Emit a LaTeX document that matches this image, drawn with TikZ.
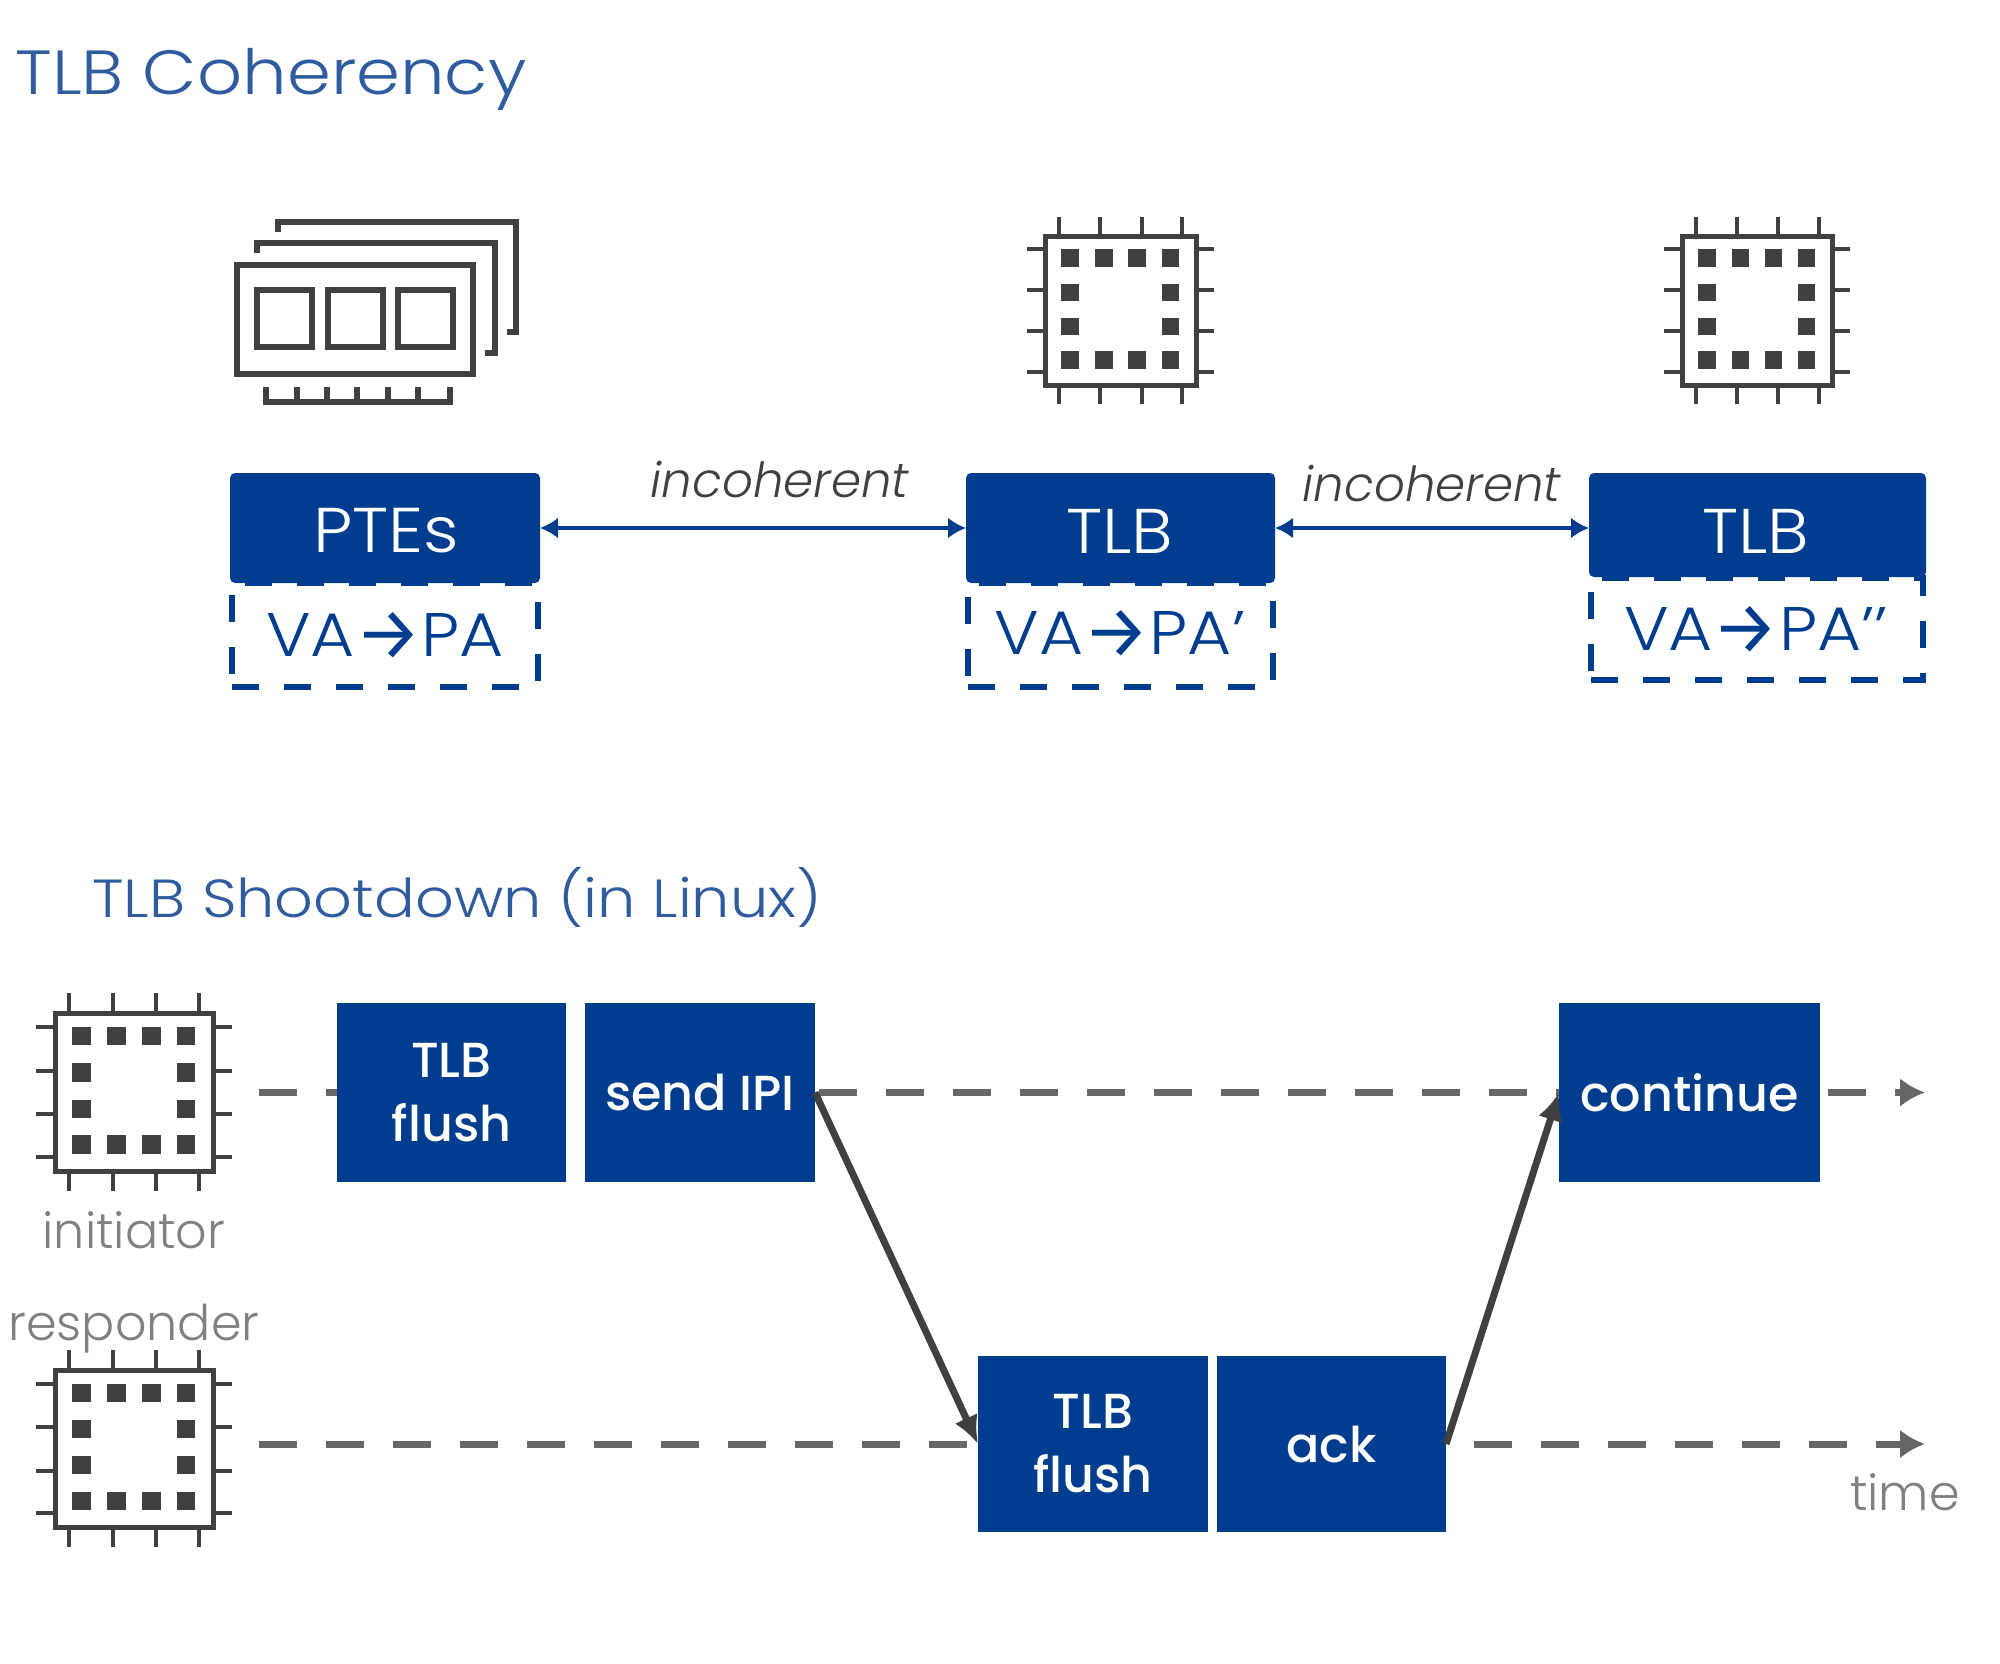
\documentclass[tikz,border=0pt]{standalone}
\usepackage{fontspec}
\setmainfont{Poppins Light}[ItalicFont={Poppins Light Italic},BoldFont={Poppins Medium}]
\newfontfamily\arrowfont{Fira Sans}
\newfontfamily\widefont{Poppins Light}[FakeStretch=1.1]
\newfontfamily\titlefont{Poppins Light}[FakeStretch=1.13]
\usetikzlibrary{arrows.meta,calc}
\definecolor{vmblue}{HTML}{003D8F}
\definecolor{titleblue}{HTML}{2F5C9E}
\definecolor{icongray}{HTML}{404040}
\definecolor{dashgray}{HTML}{666666}
\definecolor{labelgray}{HTML}{808080}
\newcommand{\pxnode}[7]{% name x1 y1 x2 y2 style text
  \node[#6,minimum width={(#4-#2)*0.02cm},minimum height={(#5-#3)*0.02cm}] (#1) at ({(#2+#4)/2},{(#3+#5)/2}) {#7};}
\newcommand{\maparrow}{{\arrowfont\fontsize{42}{36}\selectfont\raisebox{-1.5pt}{→}}}
\tikzset{
  solidbox/.style={fill=vmblue,text=white,inner sep=0pt,outer sep=0pt,rectangle,align=center,font=\fontsize{28}{36.5}\selectfont\bfseries},
  headbox/.style={fill=vmblue,inner sep=0pt,outer sep=0pt,rectangle,rounded corners=0.1cm},
  headtext/.style={text=white,inner sep=0pt,font=\widefont\fontsize{36}{36}\selectfont},
  mapbox/.style={draw=vmblue,line width=0.11cm,dash pattern=on 0.54cm off 0.5cm,inner sep=0pt,outer sep=0pt,rectangle},
  maptext/.style={text=vmblue,font=\widefont\fontsize{35}{36}\selectfont,inner sep=0pt},
  title/.style={text=titleblue,anchor=west,inner sep=0pt},
  graylabel/.style={text=labelgray,font=\fontsize{28}{28}\selectfont,inner sep=0pt},
  incoh/.style={text=icongray,font=\fontsize{27.5}{27.5}\selectfont\itshape,inner sep=0pt},
  biarrow/.style={draw=vmblue,line width=0.09cm,{Latex[length=0.36cm,width=0.42cm]}-{Latex[length=0.36cm,width=0.42cm]}},
  timeline/.style={draw=dashgray,line width=0.14cm,dash pattern=on 0.76cm off 0.58cm},
  timehead/.style={draw=dashgray,line width=0.14cm,-{Latex[length=0.5cm,width=0.58cm]}},
  msg/.style={draw=icongray,line width=0.14cm,-{Latex[length=0.56cm,width=0.5cm]}},
  iconline/.style={draw=icongray,line width=0.11cm},
  chipbody/.style={draw=icongray,line width=0.1cm},
  chippin/.style={draw=icongray,line width=0.08cm},
  padfill/.style={fill=icongray,draw=none},
}
\newcommand{\chip}[4]{% x1 y1 x2 y2
  \pgfmathsetmacro{\cw}{(#3-#1)*0.02}\pgfmathsetmacro{\ch}{(#4-#2)*0.02}
  \begin{scope}[shift={(#1,#2)},x=\cw cm,y=-\ch cm]
    \draw[chipbody] (0,0) rectangle (1,1);
    \foreach \p in {.09,.365,.64,.91}{
      \draw[chippin] (\p,0) -- (\p,-.125);
      \draw[chippin] (\p,1) -- (\p,1.125);
      \draw[chippin] (0,\p) -- (-.12,\p);
      \draw[chippin] (1,\p) -- (1.12,\p);
    }
    \foreach \p in {.167,.39,.61,.83}{
      \fill[padfill] (\p-.058,.147-.058) rectangle (\p+.058,.147+.058);
      \fill[padfill] (\p-.058,.832-.058) rectangle (\p+.058,.832+.058);
    }
    \foreach \p in {.167,.83}{
      \fill[padfill] (\p-.058,.377-.058) rectangle (\p+.058,.377+.058);
      \fill[padfill] (\p-.058,.607-.058) rectangle (\p+.058,.607+.058);
    }
  \end{scope}}
\begin{document}
\begin{tikzpicture}[x=0.02cm,y=-0.02cm]
\useasboundingbox (0,0) rectangle (2000,1663);
% titles
\node[title,font=\titlefont\fontsize{35.5}{35.5}\selectfont] (t1) at (15,79) {TLB Coherency};
\node[title,font=\titlefont\fontsize{30.5}{30.5}\selectfont] (t2) at (92,897) {TLB Shootdown (in Linux)};
% RAM icon
\draw[iconline] (278,232) -- (278,222) -- (516,222) -- (516,332) -- (507,332);
\draw[iconline] (257,253) -- (257,243) -- (495,243) -- (495,353) -- (485,353);
\draw[iconline] (237,265) rectangle (473,374);
\draw[iconline] (257,290) rectangle (312,347);
\draw[iconline] (328,290) rectangle (383,347);
\draw[iconline] (398,290) rectangle (453,347);
\draw[iconline] (266,387) -- (266,402) -- (450,402) -- (450,387);
\foreach \x in {297,327,357,388,418} \draw[iconline] (\x,387) -- (\x,402);
% chips
\chip{1045}{236}{1196}{385}
\chip{1682}{236}{1832}{385}
\chip{55}{1013}{213}{1171}
\chip{55}{1370}{213}{1527}
% dashed map boxes
\pxnode{m1}{232}{583}{538}{687}{mapbox}{}
\pxnode{m2}{968}{583}{1273}{687}{mapbox}{}
\pxnode{m3}{1591}{578}{1923}{680}{mapbox}{}
\node[maptext] (m1t) at (385,636) {VA\maparrow PA};
\node[maptext] (m2t) at (1120,634) {VA\maparrow PA’};
\node[maptext] (m3t) at (1756,630) {VA\maparrow PA’’};
% head boxes
\pxnode{h1}{230}{473}{540}{583}{headbox}{}
\pxnode{h2}{966}{473}{1275}{583}{headbox}{}
\pxnode{h3}{1589}{473}{1926}{577}{headbox}{}
\node[headtext] (h1t) at (386,531) {PTEs};
\node[headtext] (h2t) at (1120,531) {TLB};
\node[headtext] (h3t) at (1756,531) {TLB};
\draw[biarrow] (h1.east) -- (h2.west);
\draw[biarrow] (h2.east) -- (h2.east -| h3.west);
\node[incoh] (l1) at (780,480) {incoherent};
\node[incoh] (l2) at (1432,484) {incoherent};
% shootdown boxes
\pxnode{a1}{337}{1003}{566}{1182}{solidbox}{TLB\\flush}
\pxnode{a2}{585}{1003}{815}{1182}{solidbox}{send IPI}
\pxnode{a3}{1559}{1003}{1820}{1182}{solidbox}{continue}
\pxnode{b1}{978}{1356}{1208}{1532}{solidbox}{TLB\\flush}
\pxnode{b2}{1217}{1356}{1446}{1532}{solidbox}{ack}
\coordinate (s1) at (259,1092.5);
\coordinate (s2) at (259,1444);
\coordinate (e1) at (1925,1092.5);
\coordinate (e2) at (1925,1444);
\draw[timeline] (s1) -- (a1.west);
\draw[timeline] ($(a2.east)+(4,0)$) -- (a3.west);
\draw[timeline] ($(a3.east)+(8,0)$) -- ($(e1)+(-20,0)$);
\draw[timeline] (s2) -- (b1.west);
\draw[timeline] ($(b2.east)+(28,0)$) -- ($(e2)+(-20,0)$);
\draw[timehead] ($(e1)+(-30,0)$) -- (e1);
\draw[timehead] ($(e2)+(-30,0)$) -- (e2);
\draw[msg] (a2.east) -- (b1.west);
\draw[msg] (b2.east) -- (a3.west);
\node[graylabel] (i) at (134,1230) {initiator};
\node[graylabel] (r) at (134,1329) {responder};
\node[graylabel] (tm) at (1905,1492) {time};
\end{tikzpicture}
\end{document}
